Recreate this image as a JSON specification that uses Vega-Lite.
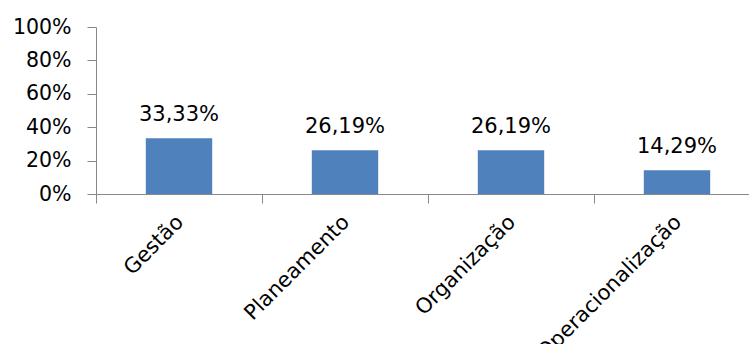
{
  "$schema": "https://vega.github.io/schema/vega-lite/v6.json",
  "autosize": {"type": "none"},
  "padding": {"left": 96, "top": 27, "right": 0, "bottom": 150},
  "width": 653,
  "height": 167,
  "background": "white",
  "config": {
    "view": {"stroke": null},
    "locale": {"number": {"decimal": ",", "thousands": ".", "grouping": [3], "currency": ["", " €"]}},
    "font": "DejaVu Sans"
  },
  "data": {
    "values": [
      {"categoria": "Gestão", "valor": 0.3333},
      {"categoria": "Planeamento", "valor": 0.2619},
      {"categoria": "Organização", "valor": 0.2619},
      {"categoria": "Operacionalização", "valor": 0.1429}
    ]
  },
  "encoding": {
    "x": {
      "field": "categoria",
      "type": "nominal",
      "sort": null,
      "scale": {"range": [0, 664], "paddingInner": 0, "paddingOuter": 0},
      "axis": {
        "title": null,
        "labelAngle": -45,
        "labelAlign": "right",
        "labelBaseline": "top",
        "labelFontSize": 21,
        "labelColor": "#000000",
        "labelPadding": 8,
        "labelOffset": -7,
        "labelLimit": 0,
        "labelOverlap": false,
        "tickBand": "extent",
        "tickSize": 9,
        "tickColor": "#888888",
        "domainColor": "#888888",
        "labelFont": "DejaVu Sans"
      }
    },
    "y": {
      "field": "valor",
      "type": "quantitative",
      "scale": {"domain": [0, 1]},
      "axis": {
        "title": null,
        "format": ".0%",
        "values": [0, 0.2, 0.4, 0.6, 0.8, 1],
        "grid": false,
        "labelFontSize": 20.5,
        "labelColor": "#000000",
        "labelPadding": 16,
        "tickSize": 9,
        "tickColor": "#888888",
        "domainColor": "#888888",
        "labelFont": "DejaVu Sans"
      }
    }
  },
  "layer": [
    {"mark": {"type": "bar", "color": "#4F81BD", "width": {"band": 0.4}}},
    {
      "mark": {"type": "text", "baseline": "alphabetic", "dy": -17, "fontSize": 21, "color": "#000000", "font": "DejaVu Sans"},
      "encoding": {"text": {"field": "valor", "type": "quantitative", "format": ".2%"}}
    }
  ]
}
